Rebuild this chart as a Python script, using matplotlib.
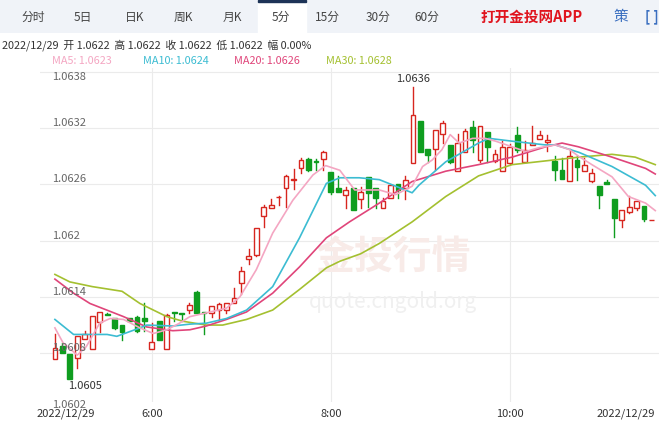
import matplotlib.pyplot as plt
from matplotlib.patches import Rectangle
import numpy as np

plt.rcParams['font.family'] = ['Noto Sans CJK SC', 'DejaVu Sans']

# 5-minute candles, prices (open, close, high, low)
opens = [1.06074, 1.06088, 1.06079, 1.06075, 1.06095, 1.06084, 1.06113, 1.06122, 1.06117, 1.06110,
         1.06118, 1.06119, 1.06118, 1.06084, 1.06114, 1.06084, 1.06124, 1.06123, 1.06126, 1.06145,
         1.06124, 1.06123, 1.06126, 1.06126, 1.06134, 1.06155, 1.06180, 1.06185, 1.06226, 1.06235,
         1.06246, 1.06256, 1.06265, 1.06277, 1.06287, 1.06285, 1.06287, 1.06273, 1.06256, 1.06249,
         1.06256, 1.06244, 1.06268, 1.06256, 1.06235, 1.06245, 1.06260, 1.06256, 1.06283, 1.06328,
         1.06298, 1.06298, 1.06314, 1.06302, 1.06274, 1.06294, 1.06321, 1.06286, 1.06316, 1.06285,
         1.06274, 1.06283, 1.06313, 1.06284, 1.06302, 1.06308, 1.06305, 1.06285, 1.06275, 1.06264,
         1.06286, 1.06274, 1.06264, 1.06258, 1.06262, 1.06244, 1.06222, 1.06230, 1.06235, 1.06237,
         1.06222]
closes = [1.06086, 1.06080, 1.06053, 1.06098, 1.06101, 1.06120, 1.06124, 1.06121, 1.06107, 1.06103,
          1.06114, 1.06104, 1.06114, 1.06092, 1.06094, 1.06121, 1.06123, 1.06122, 1.06131, 1.06123,
          1.06123, 1.06130, 1.06132, 1.06133, 1.06139, 1.06168, 1.06184, 1.06213, 1.06236, 1.06238,
          1.06247, 1.06269, 1.06266, 1.06286, 1.06275, 1.06284, 1.06294, 1.06252, 1.06252, 1.06254,
          1.06233, 1.06252, 1.06251, 1.06245, 1.06242, 1.06259, 1.06254, 1.06265, 1.06334, 1.06294,
          1.06291, 1.06318, 1.06325, 1.06284, 1.06304, 1.06317, 1.06307, 1.06322, 1.06300, 1.06292,
          1.06300, 1.06300, 1.06297, 1.06297, 1.06304, 1.06313, 1.06307, 1.06275, 1.06266, 1.06290,
          1.06278, 1.06281, 1.06272, 1.06249, 1.06260, 1.06224, 1.06233, 1.06236, 1.06242, 1.06223,
          1.06222]
highs = [1.06101, 1.06091, 1.06079, 1.06098, 1.06104, 1.06120, 1.06124, 1.06123, 1.06117, 1.06110,
         1.06118, 1.06120, 1.06133, 1.06112, 1.06114, 1.06122, 1.06124, 1.06123, 1.06133, 1.06146,
         1.06124, 1.06130, 1.06133, 1.06133, 1.06149, 1.06172, 1.06191, 1.06213, 1.06238, 1.06244,
         1.06248, 1.06270, 1.06276, 1.06288, 1.06288, 1.06287, 1.06295, 1.06273, 1.06269, 1.06257,
         1.06256, 1.06257, 1.06268, 1.06256, 1.06245, 1.06259, 1.06260, 1.06269, 1.06364, 1.06328,
         1.06298, 1.06318, 1.06327, 1.06302, 1.06314, 1.06319, 1.06327, 1.06322, 1.06316, 1.06297,
         1.06306, 1.06303, 1.06321, 1.06306, 1.06322, 1.06317, 1.06313, 1.06290, 1.06288, 1.06298,
         1.06290, 1.06288, 1.06276, 1.06258, 1.06265, 1.06244, 1.06233, 1.06248, 1.06242, 1.06237,
         1.06222]
lows = [1.06074, 1.06080, 1.06053, 1.06064, 1.06095, 1.06084, 1.06103, 1.06121, 1.06106, 1.06094,
        1.06114, 1.06103, 1.06104, 1.06084, 1.06094, 1.06084, 1.06114, 1.06114, 1.06123, 1.06123,
        1.06100, 1.06119, 1.06116, 1.06123, 1.06133, 1.06143, 1.06175, 1.06184, 1.06214, 1.06235,
        1.06238, 1.06236, 1.06255, 1.06272, 1.06274, 1.06275, 1.06275, 1.06250, 1.06252, 1.06235,
        1.06233, 1.06235, 1.06236, 1.06235, 1.06235, 1.06245, 1.06245, 1.06244, 1.06283, 1.06294,
        1.06284, 1.06275, 1.06304, 1.06283, 1.06274, 1.06294, 1.06294, 1.06284, 1.06284, 1.06284,
        1.06274, 1.06282, 1.06294, 1.06284, 1.06302, 1.06308, 1.06295, 1.06265, 1.06266, 1.06264,
        1.06265, 1.06274, 1.06262, 1.06235, 1.06260, 1.06204, 1.06214, 1.06229, 1.06233, 1.06221,
        1.06222]

# moving averages, read at sampled candle positions
ma5_x = [0, 1.1, 3, 4.2, 6, 7.4, 9.2, 11.4, 13.2, 15, 16.7, 18.1, 20.3, 23, 24.8, 27, 29.2, 31.9, 34.6,
         36.3, 38.2, 40.2, 43.5, 45.7, 47.9, 49.3, 50.6, 51.9, 53, 54.2, 56, 57.7, 59.1, 61.3, 63.1,
         64.9, 67.1, 69, 70.2, 72, 74.7, 76.9, 79.2, 80.5]
ma5_y = [1.06107, 1.06091, 1.06078, 1.06087, 1.06112, 1.06117, 1.06116, 1.06107, 1.06101, 1.06105,
         1.06112, 1.06119, 1.06123, 1.06128, 1.06140, 1.06169, 1.06208, 1.06243, 1.06270, 1.06280,
         1.06275, 1.06254, 1.06254, 1.06249, 1.06258, 1.06279, 1.06286, 1.06297, 1.06313, 1.06304,
         1.06309, 1.06309, 1.06306, 1.06300, 1.06295, 1.06299, 1.06302, 1.06297, 1.06290, 1.06281,
         1.06268, 1.06247, 1.06240, 1.06232]
ma10_x = [0, 2.5, 7, 8.3, 11.4, 12.3, 15.8, 18.1, 20.3, 23, 25.7, 29.2, 32.8, 36.4, 38.2, 40.8, 43.5,
          47.9, 48.8, 52.4, 56.8, 58.2, 61.3, 65.8, 67.1, 70.3, 74.7, 79.2, 80.5]
ma10_y = [1.06116, 1.06100, 1.06100, 1.06098, 1.06107, 1.06110, 1.06109, 1.06111, 1.06112, 1.06117,
          1.06126, 1.06151, 1.06203, 1.06261, 1.06267, 1.06267, 1.06265, 1.06251, 1.06259, 1.06284,
          1.06304, 1.06309, 1.06306, 1.06302, 1.06302, 1.06294, 1.06279, 1.06259, 1.06248]
ma20_x = [0, 2.5, 4.7, 9.2, 12.3, 15.8, 18.1, 20.3, 23, 25.7, 29.2, 32.8, 36.4, 39.5, 43.5, 47.9, 52.4,
          56.8, 61.3, 65.8, 68, 70.2, 74.7, 79.2, 80.5]
ma20_y = [1.06159, 1.06144, 1.06133, 1.06119, 1.06108, 1.06104, 1.06105, 1.06109, 1.06116, 1.06124,
          1.06144, 1.06172, 1.06203, 1.06220, 1.06240, 1.06263, 1.06274, 1.06281, 1.06289, 1.06300,
          1.06304, 1.06300, 1.06289, 1.06277, 1.06271]
ma30_x = [0, 2, 5, 9, 11.4, 15, 17.2, 20.3, 22.5, 25.7, 29.2, 32.8, 36.4, 38.2, 41, 43.5, 47.9, 52.4,
          56.8, 61.3, 65.8, 70.3, 74.7, 77.8, 80.5]
ma30_y = [1.06164, 1.06156, 1.06151, 1.06146, 1.06133, 1.06119, 1.06114, 1.06110, 1.06110, 1.06116,
          1.06126, 1.06148, 1.06171, 1.06178, 1.06186, 1.06197, 1.06220, 1.06247, 1.06269, 1.06281,
          1.06285, 1.06289, 1.06292, 1.06289, 1.06281]

y_ticks = [1.0602, 1.0608, 1.0614, 1.062, 1.0626, 1.0632, 1.0638]
y_labels = ['1.0602', '1.0608', '1.0614', '1.062', '1.0626', '1.0632', '1.0638']
time_ticks = [13, 37, 61]
time_labels = ['6:00', '8:00', '10:00']
tabs = ['分时', '5日', '日K', '周K', '月K', '5分', '15分', '30分', '60分']
tab_x = [33, 83, 135, 183, 232, 281, 327, 378, 427]

RED = '#d7261f'
GREEN = '#0f9d1f'
C5, C10, C20, C30 = '#f4a6c2', '#3cbcd2', '#e0457a', '#a4c030'

W, H = 659, 421
fig = plt.figure(figsize=(W / 100, H / 100), dpi=100)

# header tab bar
bar = fig.add_axes([0, 1 - 33 / H, 1, 33 / H])
bar.set_xlim(0, W)
bar.set_ylim(33, 0)
bar.axis('off')
bar.add_patch(Rectangle((0, 0), W, 33, color='#f0f3f8'))
bar.add_patch(Rectangle((258, 0), 48, 33, color='white'))
bar.add_patch(Rectangle((258, 0), 48, 2, color='#1d3357'))
for t, x in zip(tabs, tab_x):
    bar.text(x, 17, t, ha='center', va='center', fontsize=8.5, color='#444444')
bar.text(532, 17, '打开金投网APP', ha='center', va='center', fontsize=10.5,
         color='#e0141e', fontweight='bold')
bar.text(621, 17, '策', ha='center', va='center', fontsize=10.5, color='#3b6fc0')
bar.text(652, 17, '[ ]', ha='center', va='center', fontsize=10, color='#3b6fc0', fontweight='bold')

fig.text(2 / W, 1 - 45 / H, '2022/12/29  开 1.0622  高 1.0622  收 1.0622  低 1.0622  幅 0.00%',
         fontsize=7.8, color='#333333', va='center')
for txt, x, c in [('MA5: 1.0623', 52, C5), ('MA10: 1.0624', 143, C10),
                  ('MA20: 1.0626', 234, C20), ('MA30: 1.0628', 326, C30)]:
    fig.text(x / W, 1 - 61 / H, txt, fontsize=7.8, color=c, va='center')

# main chart
ax = fig.add_axes([40 / W, 19 / H, 619 / W, 334 / H])
ax.set_xlim(-2, 81)
ax.set_ylim(1.06028, 1.06384)
for s in ax.spines.values():
    s.set_visible(False)
ax.set_xticks([])
ax.set_yticks([])
for y in y_ticks:
    ax.axhline(y, color='#ebebeb', lw=0.8, zorder=0)
for x in time_ticks:
    ax.axvline(x, color='#ebebeb', lw=0.8, zorder=0)

ax.text(0.57, 0.43, '金投行情', fontsize=28, color='#f8ebe8', ha='center', va='center',
        transform=ax.transAxes, zorder=0, fontweight='bold')
ax.text(0.57, 0.30, 'quote.cngold.org', fontsize=15, color='#f0f0f0', ha='center', va='center',
        transform=ax.transAxes, zorder=0)

for i in range(len(opens)):
    o, c, h, l = opens[i], closes[i], highs[i], lows[i]
    up = c >= o
    col = RED if up else GREEN
    lo, hi = min(o, c), max(o, c)
    ax.plot([i, i], [l, lo], color=col, lw=1, zorder=2)
    ax.plot([i, i], [hi, h], color=col, lw=1, zorder=2)
    if up:
        ax.add_patch(Rectangle((i - 0.32, lo), 0.64, max(hi - lo, 0.000005),
                               facecolor='white', edgecolor=col, lw=1, zorder=3))
    else:
        ax.add_patch(Rectangle((i - 0.32, lo), 0.64, max(hi - lo, 0.000005),
                               facecolor=col, edgecolor=col, lw=1, zorder=3))

ax.plot(ma30_x, ma30_y, color=C30, lw=1.2, zorder=4)
ax.plot(ma20_x, ma20_y, color=C20, lw=1.2, zorder=4)
ax.plot(ma10_x, ma10_y, color=C10, lw=1.2, zorder=4)
ax.plot(ma5_x, ma5_y, color=C5, lw=1.2, zorder=4)

for y, lab in zip(y_ticks, y_labels):
    ax.text(12 / 619, y, lab, fontsize=8, color='#666666', transform=ax.get_yaxis_transform(),
            va='bottom' if y < 1.0638 else 'top', zorder=5)

ax.text(48, max(highs) + 0.00003, '1.0636', ha='center', va='bottom', fontsize=8, color='#333333')
ax.text(4, min(lows) - 0.00003, '1.0605', ha='center', va='top', fontsize=8, color='#333333')

for x, lab in zip(time_ticks, time_labels):
    ax.text(x, -0.02, lab, ha='center', va='top', fontsize=8, color='#333333',
            transform=ax.get_xaxis_transform())
ax.text(1.5, -0.02, '2022/12/29', ha='center', va='top', fontsize=8, color='#333333',
        transform=ax.get_xaxis_transform())
ax.text(76.5, -0.02, '2022/12/29', ha='center', va='top', fontsize=8, color='#333333',
        transform=ax.get_xaxis_transform())

fig.savefig('out.png', dpi=100)
